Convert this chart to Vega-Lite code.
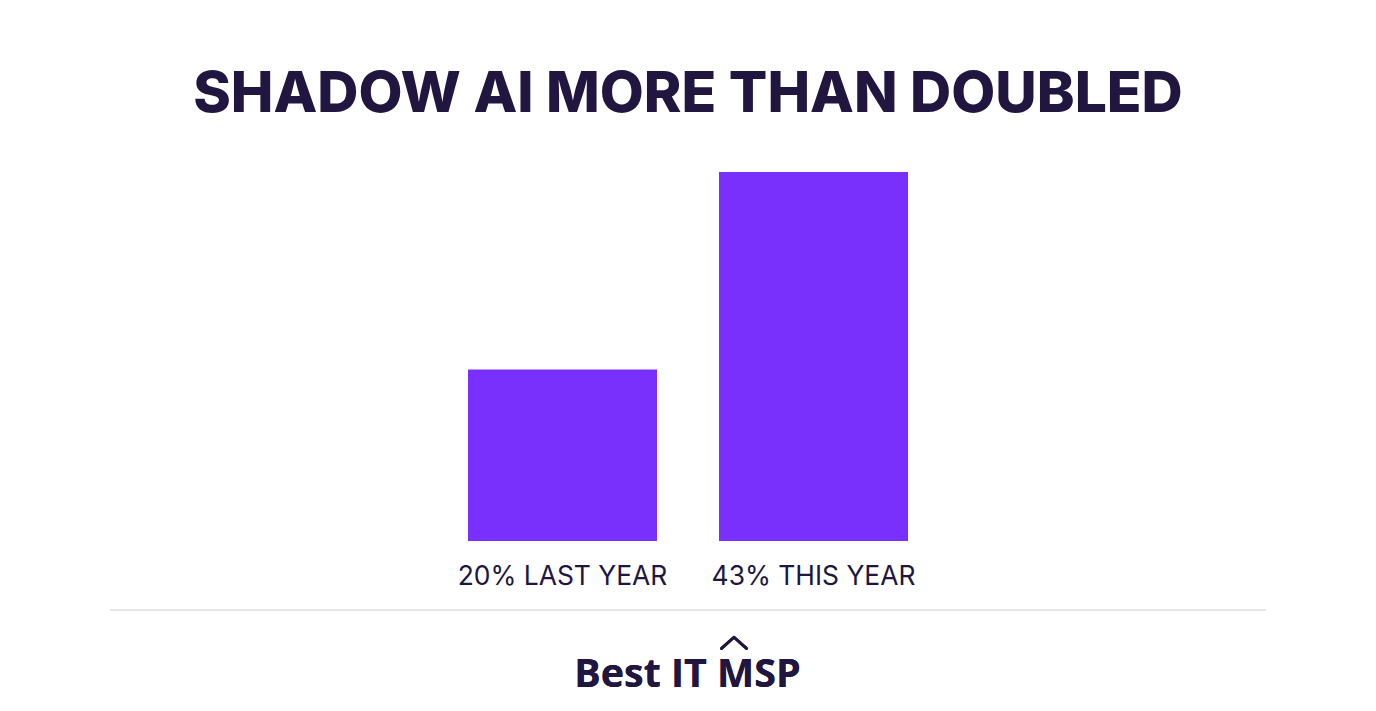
{
  "$schema": "https://vega.github.io/schema/vega-lite/v6.json",
  "width": 1376,
  "height": 711,
  "padding": 0,
  "autosize": {"type": "none"},
  "background": "#ffffff",
  "view": {"stroke": null},
  "title": {
    "text": "SHADOW AI MORE THAN DOUBLED",
    "font": "Inter",
    "fontSize": 57,
    "fontWeight": 800,
    "color": "#21163f",
    "anchor": "middle",
    "frame": "group",
    "baseline": "alphabetic",
    "offset": -169
  },
  "data": {"values": [
    {"label": "20% LAST YEAR", "value": 20},
    {"label": "43% THIS YEAR", "value": 43}
  ]},
  "layer": [
    {
      "mark": {"type": "bar", "color": "#7a30fd"},
      "encoding": {
        "x": {
          "field": "label",
          "type": "nominal",
          "sort": null,
          "scale": {"range": [468, 908], "paddingInner": 0.247, "paddingOuter": 0},
          "axis": {
            "title": null,
            "domain": false,
            "ticks": false,
            "grid": false,
            "labelAngle": 0,
            "labelFont": "Inter",
            "labelFontSize": 26.4,
            "labelColor": "#21163f",
            "labelPadding": 22,
            "labelBaseline": "middle",
            "labelLimit": 400,
            "labelOverlap": false,
            "offset": -157
          }
        },
        "y": {
          "field": "value",
          "type": "quantitative",
          "scale": {"domain": [-19.8, 63.05], "nice": false, "zero": false},
          "axis": null
        },
        "y2": {"datum": 0}
      }
    },
    {
      "mark": {"type": "rule", "color": "#e4e4e4", "strokeWidth": 1.5},
      "encoding": {
        "x": {"datum": 110, "type": "quantitative", "scale": {"domain": [0, 1376], "nice": false, "zero": false}, "axis": null},
        "x2": {"datum": 1266},
        "y": {"datum": -8.04, "type": "quantitative"}
      }
    },
    {
      "mark": {
        "type": "text",
        "text": "Best IT MSP",
        "font": "Open Sans",
        "fontSize": 39.4,
        "fontWeight": 700,
        "color": "#21163f",
        "align": "center",
        "baseline": "alphabetic"
      },
      "encoding": {
        "x": {"datum": 687.5, "type": "quantitative", "scale": {"domain": [0, 1376], "nice": false, "zero": false}, "axis": null},
        "y": {"datum": -17, "type": "quantitative"}
      }
    },
    {
      "mark": {
        "type": "point",
        "shape": "M-1,0.45L0,-0.45L1,0.45",
        "filled": false,
        "size": 620,
        "stroke": "#21163f",
        "strokeWidth": 3,
        "strokeCap": "round",
        "strokeJoin": "round",
        "opacity": 1
      },
      "encoding": {
        "x": {"datum": 734, "type": "quantitative", "scale": {"domain": [0, 1376], "nice": false, "zero": false}, "axis": null},
        "y": {"datum": -11.86, "type": "quantitative"}
      }
    }
  ],
  "resolve": {"scale": {"x": "independent"}, "axis": {"x": "independent"}}
}
